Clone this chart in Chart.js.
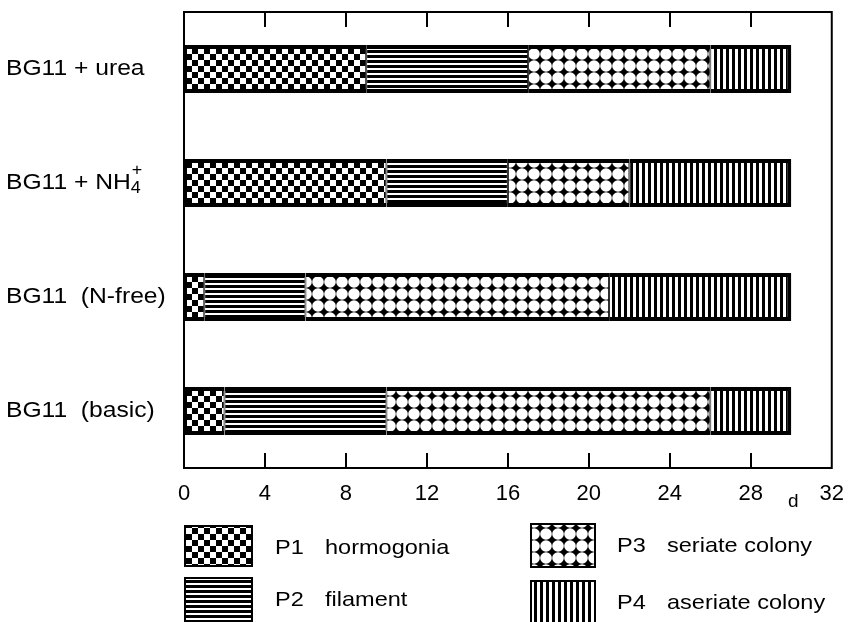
<!DOCTYPE html>
<html lang="en">
<head>
<meta charset="UTF-8" />
<title>Developmental phases in BG11 media</title>
<script src="https://cdn.jsdelivr.net/npm/chart.js"></script>
<style>
  html, body { margin: 0; padding: 0; background: #fff; }
  #wrap { width: 849px; height: 622px; }
</style>
</head>
<body>
<div id="wrap"><canvas id="phaseChart"></canvas></div>
<script>
// media (rows, top to bottom)
const media = ['BG11 + urea', 'BG11 + NH4+', 'BG11  (N-free)', 'BG11  (basic)'];
const phases = ['P1', 'P2', 'P3', 'P4'];
const phaseNames = ['hormogonia', 'filament', 'seriate colony', 'aseriate colony'];
// length of each phase, days
const p1Days = [9, 10, 1, 2];
const p2Days = [8, 6, 5, 8];
const p3Days = [9, 6, 15, 16];
const p4Days = [4, 8, 9, 4];
const dayTicks = [0, 4, 8, 12, 16, 20, 24, 28, 32];

const FONT = 'Arial, "Liberation Sans", Helvetica, sans-serif';
const STRETCH = 1.12; // the original text is a bit wider than plain Arial

// hatch patterns, black on white
function makePattern(w, h, paint) {
  const c = document.createElement('canvas');
  c.width = w; c.height = h;
  const g = c.getContext('2d');
  g.fillStyle = '#fff';
  g.fillRect(0, 0, w, h);
  g.fillStyle = '#000';
  paint(g);
  return document.createElement('canvas').getContext('2d').createPattern(c, 'repeat');
}
const checker = makePattern(12, 12, g => { g.fillRect(0, 0, 6, 6); g.fillRect(6, 6, 6, 6); });
const hLines = makePattern(5, 5, g => g.fillRect(0, 0, 5, 3));
const dots = makePattern(12, 12, g => {
  g.fillRect(0, 0, 12, 12);
  g.fillStyle = '#fff';
  g.beginPath();
  g.arc(6, 6, 5.8, 0, Math.PI * 2);
  g.fill();
});
const vLines = makePattern(6, 6, g => g.fillRect(0, 0, 3, 6));
const patterns = [checker, hLines, dots, vLines];

const seriesDays = [p1Days, p2Days, p3Days, p4Days];
const datasets = phases.map((p, i) => ({
  label: p,
  data: seriesDays[i],
  backgroundColor: patterns[i],
  borderColor: '#000',
  borderWidth: { top: 4, bottom: 4, left: i === 0 ? 3 : 1, right: i === 3 ? 4 : 1 },
  borderSkipped: false,
  barPercentage: 0.42,
  categoryPercentage: 1
}));

function wideText(ctx, text, x, y) {
  ctx.save();
  ctx.translate(x, y);
  ctx.scale(STRETCH, 1);
  ctx.fillText(text, 0, 0);
  ctx.restore();
  return ctx.measureText(text).width * STRETCH;
}

const decorations = {
  id: 'decorations',
  afterDatasetsDraw(chart) {
    const ctx = chart.ctx;
    const a = chart.chartArea;
    const xs = chart.scales.x;
    const ys = chart.scales.y;
    ctx.save();
    ctx.strokeStyle = '#000';
    ctx.fillStyle = '#000';

    // frame
    ctx.lineWidth = 2;
    ctx.strokeRect(a.left, a.top, a.right - a.left, a.bottom - a.top);

    // inward ticks top and bottom
    ctx.beginPath();
    dayTicks.slice(1, -1).forEach(v => {
      const x = Math.round(xs.getPixelForValue(v));
      ctx.moveTo(x, a.top); ctx.lineTo(x, a.top + 15);
      ctx.moveTo(x, a.bottom); ctx.lineTo(x, a.bottom - 15);
    });
    ctx.stroke();

    // unit
    ctx.font = '19px ' + FONT;
    ctx.textAlign = 'center';
    ctx.textBaseline = 'alphabetic';
    ctx.fillText('d', xs.getPixelForValue(30.1), a.bottom + 39);

    // row labels
    ctx.font = '22px ' + FONT;
    ctx.textAlign = 'left';
    ctx.textBaseline = 'middle';
    media.forEach((m, i) => {
      const y = ys.getPixelForValue(i);
      if (m.endsWith('4+')) {
        const w = wideText(ctx, m.slice(0, -2), 6, y);
        ctx.font = '16px ' + FONT;
        wideText(ctx, '4', 6 + w, y + 6);
        wideText(ctx, '+', 6 + w + 1, y - 12);
        ctx.font = '22px ' + FONT;
      } else {
        wideText(ctx, m, 6, y);
      }
    });

    // legend
    const boxes = [
      { x: 184, y: 525, w: 69, h: 42, tx: 275 },
      { x: 184, y: 577, w: 69, h: 48, tx: 275 },
      { x: 530, y: 523, w: 66, h: 45, tx: 617 },
      { x: 530, y: 580, w: 66, h: 48, tx: 617 }
    ];
    chart.data.datasets.forEach((ds, i) => {
      const b = boxes[i];
      ctx.fillStyle = ds.backgroundColor;
      ctx.fillRect(b.x, b.y, b.w, b.h);
      ctx.lineWidth = 2;
      ctx.strokeRect(b.x + 1, b.y + 1, b.w - 2, b.h - 2);
      ctx.fillStyle = '#000';
      ctx.font = '21px ' + FONT;
      ctx.textBaseline = 'middle';
      const ty = b.y + 23;
      wideText(ctx, ds.label, b.tx, ty);
      wideText(ctx, phaseNames[i], b.tx + 50, ty);
    });
    ctx.restore();
  }
};

new Chart(document.getElementById('phaseChart'), {
  type: 'bar',
  data: { labels: media, datasets: datasets },
  options: {
    indexAxis: 'y',
    responsive: true,
    maintainAspectRatio: false,
    animation: false,
    layout: { padding: { left: 6, right: 0, top: 12, bottom: 0 } },
    plugins: { legend: { display: false }, tooltip: { enabled: false } },
    scales: {
      x: {
        stacked: true,
        min: 0,
        max: 32,
        afterBuildTicks: s => { s.ticks = dayTicks.map(v => ({ value: v })); },
        afterFit: s => { s.height = 154; },
        grid: { display: false },
        border: { display: false },
        ticks: { color: '#000', font: { size: 22, family: FONT }, padding: 5, maxRotation: 0 }
      },
      y: {
        stacked: true,
        afterFit: s => { s.width = 178; },
        grid: { display: false },
        border: { display: false },
        ticks: { display: false }
      }
    }
  },
  plugins: [decorations]
});
</script>
</body>
</html>
